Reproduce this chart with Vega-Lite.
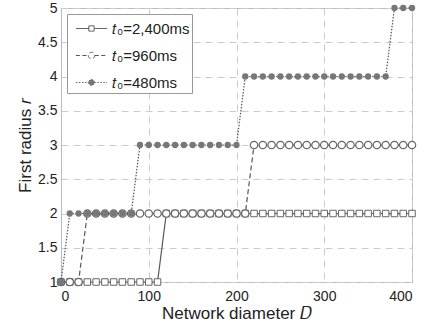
{
  "$schema": "https://vega.github.io/schema/vega-lite/v6.json",
  "autosize": {"type": "none"},
  "padding": {"left": 61, "top": 8, "right": 24, "bottom": 48},
  "width": 351,
  "height": 274,
  "config": {
    "font": "Liberation Sans",
    "view": {"stroke": "#bbbbbb", "strokeWidth": 1},
    "axis": {
      "labelFont": "Liberation Sans",
      "titleFont": "Liberation Sans",
      "labelFontSize": 14,
      "titleFontSize": 17,
      "labelColor": "#222",
      "titleColor": "#222",
      "titleFontWeight": "normal",
      "ticks": false,
      "domainColor": "#bbbbbb",
      "gridColor": "#cccccc",
      "gridDash": [7, 5],
      "gridWidth": 1
    }
  },
  "data": {"values": [
    {"D":0,"r":1,"s":"𝑡₀=2,400ms"},{"D":10,"r":1,"s":"𝑡₀=2,400ms"},{"D":20,"r":1,"s":"𝑡₀=2,400ms"},{"D":30,"r":1,"s":"𝑡₀=2,400ms"},{"D":40,"r":1,"s":"𝑡₀=2,400ms"},{"D":50,"r":1,"s":"𝑡₀=2,400ms"},{"D":60,"r":1,"s":"𝑡₀=2,400ms"},{"D":70,"r":1,"s":"𝑡₀=2,400ms"},{"D":80,"r":1,"s":"𝑡₀=2,400ms"},{"D":90,"r":1,"s":"𝑡₀=2,400ms"},{"D":100,"r":1,"s":"𝑡₀=2,400ms"},{"D":110,"r":1,"s":"𝑡₀=2,400ms"},
    {"D":120,"r":2,"s":"𝑡₀=2,400ms"},{"D":130,"r":2,"s":"𝑡₀=2,400ms"},{"D":140,"r":2,"s":"𝑡₀=2,400ms"},{"D":150,"r":2,"s":"𝑡₀=2,400ms"},{"D":160,"r":2,"s":"𝑡₀=2,400ms"},{"D":170,"r":2,"s":"𝑡₀=2,400ms"},{"D":180,"r":2,"s":"𝑡₀=2,400ms"},{"D":190,"r":2,"s":"𝑡₀=2,400ms"},{"D":200,"r":2,"s":"𝑡₀=2,400ms"},{"D":210,"r":2,"s":"𝑡₀=2,400ms"},{"D":220,"r":2,"s":"𝑡₀=2,400ms"},{"D":230,"r":2,"s":"𝑡₀=2,400ms"},{"D":240,"r":2,"s":"𝑡₀=2,400ms"},{"D":250,"r":2,"s":"𝑡₀=2,400ms"},{"D":260,"r":2,"s":"𝑡₀=2,400ms"},{"D":270,"r":2,"s":"𝑡₀=2,400ms"},{"D":280,"r":2,"s":"𝑡₀=2,400ms"},{"D":290,"r":2,"s":"𝑡₀=2,400ms"},{"D":300,"r":2,"s":"𝑡₀=2,400ms"},{"D":310,"r":2,"s":"𝑡₀=2,400ms"},{"D":320,"r":2,"s":"𝑡₀=2,400ms"},{"D":330,"r":2,"s":"𝑡₀=2,400ms"},{"D":340,"r":2,"s":"𝑡₀=2,400ms"},{"D":350,"r":2,"s":"𝑡₀=2,400ms"},{"D":360,"r":2,"s":"𝑡₀=2,400ms"},{"D":370,"r":2,"s":"𝑡₀=2,400ms"},{"D":380,"r":2,"s":"𝑡₀=2,400ms"},{"D":390,"r":2,"s":"𝑡₀=2,400ms"},{"D":400,"r":2,"s":"𝑡₀=2,400ms"},
    {"D":0,"r":1,"s":"𝑡₀=960ms"},{"D":10,"r":1,"s":"𝑡₀=960ms"},{"D":20,"r":1,"s":"𝑡₀=960ms"},
    {"D":30,"r":2,"s":"𝑡₀=960ms"},{"D":40,"r":2,"s":"𝑡₀=960ms"},{"D":50,"r":2,"s":"𝑡₀=960ms"},{"D":60,"r":2,"s":"𝑡₀=960ms"},{"D":70,"r":2,"s":"𝑡₀=960ms"},{"D":80,"r":2,"s":"𝑡₀=960ms"},{"D":90,"r":2,"s":"𝑡₀=960ms"},{"D":100,"r":2,"s":"𝑡₀=960ms"},{"D":110,"r":2,"s":"𝑡₀=960ms"},{"D":120,"r":2,"s":"𝑡₀=960ms"},{"D":130,"r":2,"s":"𝑡₀=960ms"},{"D":140,"r":2,"s":"𝑡₀=960ms"},{"D":150,"r":2,"s":"𝑡₀=960ms"},{"D":160,"r":2,"s":"𝑡₀=960ms"},{"D":170,"r":2,"s":"𝑡₀=960ms"},{"D":180,"r":2,"s":"𝑡₀=960ms"},{"D":190,"r":2,"s":"𝑡₀=960ms"},{"D":200,"r":2,"s":"𝑡₀=960ms"},{"D":210,"r":2,"s":"𝑡₀=960ms"},
    {"D":220,"r":3,"s":"𝑡₀=960ms"},{"D":230,"r":3,"s":"𝑡₀=960ms"},{"D":240,"r":3,"s":"𝑡₀=960ms"},{"D":250,"r":3,"s":"𝑡₀=960ms"},{"D":260,"r":3,"s":"𝑡₀=960ms"},{"D":270,"r":3,"s":"𝑡₀=960ms"},{"D":280,"r":3,"s":"𝑡₀=960ms"},{"D":290,"r":3,"s":"𝑡₀=960ms"},{"D":300,"r":3,"s":"𝑡₀=960ms"},{"D":310,"r":3,"s":"𝑡₀=960ms"},{"D":320,"r":3,"s":"𝑡₀=960ms"},{"D":330,"r":3,"s":"𝑡₀=960ms"},{"D":340,"r":3,"s":"𝑡₀=960ms"},{"D":350,"r":3,"s":"𝑡₀=960ms"},{"D":360,"r":3,"s":"𝑡₀=960ms"},{"D":370,"r":3,"s":"𝑡₀=960ms"},{"D":380,"r":3,"s":"𝑡₀=960ms"},{"D":390,"r":3,"s":"𝑡₀=960ms"},{"D":400,"r":3,"s":"𝑡₀=960ms"},
    {"D":0,"r":1,"s":"𝑡₀=480ms"},
    {"D":10,"r":2,"s":"𝑡₀=480ms"},{"D":20,"r":2,"s":"𝑡₀=480ms"},{"D":30,"r":2,"s":"𝑡₀=480ms"},{"D":40,"r":2,"s":"𝑡₀=480ms"},{"D":50,"r":2,"s":"𝑡₀=480ms"},{"D":60,"r":2,"s":"𝑡₀=480ms"},{"D":70,"r":2,"s":"𝑡₀=480ms"},{"D":80,"r":2,"s":"𝑡₀=480ms"},
    {"D":90,"r":3,"s":"𝑡₀=480ms"},{"D":100,"r":3,"s":"𝑡₀=480ms"},{"D":110,"r":3,"s":"𝑡₀=480ms"},{"D":120,"r":3,"s":"𝑡₀=480ms"},{"D":130,"r":3,"s":"𝑡₀=480ms"},{"D":140,"r":3,"s":"𝑡₀=480ms"},{"D":150,"r":3,"s":"𝑡₀=480ms"},{"D":160,"r":3,"s":"𝑡₀=480ms"},{"D":170,"r":3,"s":"𝑡₀=480ms"},{"D":180,"r":3,"s":"𝑡₀=480ms"},{"D":190,"r":3,"s":"𝑡₀=480ms"},{"D":200,"r":3,"s":"𝑡₀=480ms"},
    {"D":210,"r":4,"s":"𝑡₀=480ms"},{"D":220,"r":4,"s":"𝑡₀=480ms"},{"D":230,"r":4,"s":"𝑡₀=480ms"},{"D":240,"r":4,"s":"𝑡₀=480ms"},{"D":250,"r":4,"s":"𝑡₀=480ms"},{"D":260,"r":4,"s":"𝑡₀=480ms"},{"D":270,"r":4,"s":"𝑡₀=480ms"},{"D":280,"r":4,"s":"𝑡₀=480ms"},{"D":290,"r":4,"s":"𝑡₀=480ms"},{"D":300,"r":4,"s":"𝑡₀=480ms"},{"D":310,"r":4,"s":"𝑡₀=480ms"},{"D":320,"r":4,"s":"𝑡₀=480ms"},{"D":330,"r":4,"s":"𝑡₀=480ms"},{"D":340,"r":4,"s":"𝑡₀=480ms"},{"D":350,"r":4,"s":"𝑡₀=480ms"},{"D":360,"r":4,"s":"𝑡₀=480ms"},{"D":370,"r":4,"s":"𝑡₀=480ms"},
    {"D":380,"r":5,"s":"𝑡₀=480ms"},{"D":390,"r":5,"s":"𝑡₀=480ms"},{"D":400,"r":5,"s":"𝑡₀=480ms"}
  ]},
  "encoding": {
    "x": {"field": "D", "type": "quantitative", "scale": {"domain": [0, 400], "nice": false},
          "axis": {"title": "Network diameter 𝐷", "values": [0, 100, 200, 300, 400], "labelPadding": 7, "titlePadding": 2, "domain": false}},
    "y": {"field": "r", "type": "quantitative", "scale": {"domain": [1, 5], "nice": false, "zero": false},
          "axis": {"title": "First radius 𝑟", "format": "~g", "values": [1, 1.5, 2, 2.5, 3, 3.5, 4, 4.5, 5], "labelPadding": 4, "titlePadding": 3}}
  },
  "layer": [
    {"transform": [{"filter": "datum.s == '𝑡₀=2,400ms'"}], "mark": {"type": "line", "color": "#555555", "strokeWidth": 1.2, "clip": false}},
    {"transform": [{"filter": "datum.s == '𝑡₀=2,400ms'"}], "mark": {"type": "point", "shape": "square", "size": 42, "filled": false, "fill": "white", "fillOpacity": 1, "stroke": "#666666", "strokeWidth": 1, "opacity": 1}},
    {"transform": [{"filter": "datum.s == '𝑡₀=960ms'"}], "mark": {"type": "line", "color": "#555555", "strokeWidth": 1.2, "strokeDash": [5, 3]}},
    {"transform": [{"filter": "datum.s == '𝑡₀=960ms'"}], "mark": {"type": "point", "shape": "circle", "size": 55, "filled": false, "fill": "white", "fillOpacity": 1, "stroke": "#666666", "strokeWidth": 1.2, "opacity": 1}},
    {"transform": [{"filter": "datum.s == '𝑡₀=480ms'"}], "mark": {"type": "line", "color": "#555555", "strokeWidth": 1.2, "strokeDash": [1.5, 1.5]}},
    {"transform": [{"filter": "datum.s == '𝑡₀=480ms'"}], "mark": {"type": "point", "shape": "circle", "size": 40, "filled": true, "color": "#777777", "opacity": 1}},
    {
      "transform": [{"filter": "datum.D == 0"}],
      "mark": {"type": "point", "opacity": 0, "strokeWidth": 1},
      "encoding": {
        "shape": {"field": "s", "type": "nominal",
          "scale": {"domain": ["𝑡₀=2,400ms", "𝑡₀=960ms", "𝑡₀=480ms"],
                    "range": ["M-1.3,0H-0.22M0.22,0H1.3M-0.22,-0.22H0.22V0.22H-0.22Z",
                              "M-1.3,0H-0.27M0.27,0H1.3M-0.27,0A0.27,0.27,0,1,0,0.27,0A0.27,0.27,0,1,0,-0.27,0Z",
                              "M-1.3,0H-0.24M0.24,0H1.3M-0.24,0A0.24,0.24,0,1,0,0.24,0A0.24,0.24,0,1,0,-0.24,0Z"]},
          "legend": {"title": null, "orient": "top-left", "offset": 6, "padding": 2, "strokeColor": "#999999", "fillColor": "white",
                     "symbolSize": 576, "symbolOpacity": 1, "symbolStrokeWidth": 1, "symbolOffset": 10,
                     "labelOffset": 8, "labelFontSize": 15, "labelFont": "Liberation Sans", "labelColor": "#222", "rowPadding": 6}},
        "strokeDash": {"field": "s", "type": "nominal",
          "scale": {"domain": ["𝑡₀=2,400ms", "𝑡₀=960ms", "𝑡₀=480ms"], "range": [[1, 0], [4, 2.5], [1.5, 1.5]]}},
        "stroke": {"field": "s", "type": "nominal",
          "scale": {"domain": ["𝑡₀=2,400ms", "𝑡₀=960ms", "𝑡₀=480ms"], "range": ["#555555", "#555555", "#666666"]}},
        "fill": {"field": "s", "type": "nominal",
          "scale": {"domain": ["𝑡₀=2,400ms", "𝑡₀=960ms", "𝑡₀=480ms"], "range": ["white", "white", "#777777"]}}
      }
    }
  ]
}
